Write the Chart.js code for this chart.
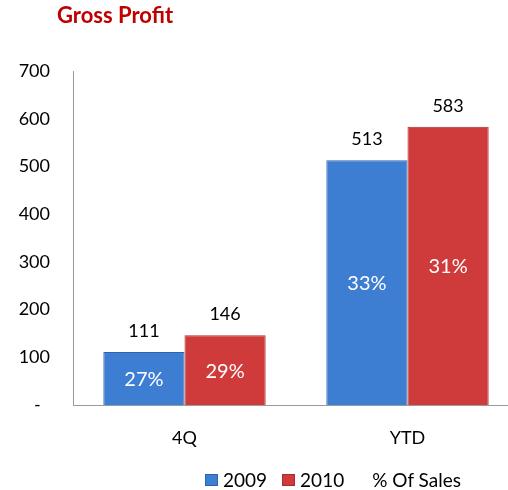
<!DOCTYPE html>
<html>
<head>
<meta charset="utf-8">
<script src="https://cdn.jsdelivr.net/npm/chart.js@4.4.1/dist/chart.umd.min.js"></script>
<style>
  html, body { margin: 0; padding: 0; width: 508px; height: 490px; overflow: hidden; background: #fff; }
  #wrap { position: relative; width: 508px; height: 490px; overflow: hidden; }
  canvas { position: absolute; left: 0; top: 0; }
  #title { position: absolute; left: 57px; top: 4px; font-family: Lato, "Open Sans", sans-serif; font-weight: bold; font-size: 22px; line-height: 22px; color: #c00000; white-space: nowrap; }
  #legend { position: absolute; left: 205px; top: 469px; font-family: Lato, "Open Sans", sans-serif; font-size: 19px; line-height: 22px; color: #000; display: flex; align-items: center; white-space: nowrap; }
  .box { display: inline-block; width: 13px; height: 12px; margin-right: 5px; box-sizing: border-box; }
  .item { display: flex; align-items: center; margin-right: 15px; }
</style>
</head>
<body>
<div id="wrap">
  <canvas id="c" width="520" height="490"></canvas>
  <div id="title">Gross Profit</div>
  <div id="legend"></div>
</div>
<script>
// ---- data ----
const categories = ['4Q', 'YTD'];
const seriesNames = ['2009', '2010'];
const values2009 = [111, 513];
const values2010 = [146, 583];
const pct2009 = ['27%', '33%'];
const pct2010 = ['29%', '31%'];
const yTicks = [0, 100, 200, 300, 400, 500, 600, 700];
const extraLegend = '% Of Sales';

const FONT = 'Lato, "Open Sans", sans-serif';
const colors = ['#3d7dd2', '#cf3b3b'];
const borders = ['#2f64aa', '#a82e2e'];

// legend (HTML)
const legend = document.getElementById('legend');
seriesNames.forEach((n, i) => {
  const it = document.createElement('span');
  it.className = 'item';
  const b = document.createElement('span');
  b.className = 'box';
  b.style.background = colors[i];
  b.style.border = '1px solid ' + borders[i];
  it.appendChild(b);
  const t = document.createElement('span');
  t.textContent = n;
  it.appendChild(t);
  legend.appendChild(it);
});
const ex = document.createElement('span');
ex.className = 'item';
ex.style.marginLeft = '13px';
ex.textContent = extraLegend;
legend.appendChild(ex);

const pcts = [pct2009, pct2010];

const labelPlugin = {
  id: 'barLabels',
  afterDatasetsDraw(chart) {
    const ctx = chart.ctx;
    ctx.save();
    chart.data.datasets.forEach((ds, di) => {
      const meta = chart.getDatasetMeta(di);
      meta.data.forEach((bar, i) => {
        // value above bar
        ctx.font = '18px ' + FONT;
        ctx.fillStyle = '#000';
        ctx.textAlign = 'center';
        ctx.textBaseline = 'bottom';
        ctx.fillText(String(ds.data[i]), bar.x, bar.y - 12);
        // percentage inside bar
        ctx.font = '20px ' + FONT;
        ctx.fillStyle = '#fff';
        ctx.textBaseline = 'middle';
        ctx.fillText(pcts[di][i], bar.x, (bar.y + bar.base) / 2 + 1);
      });
    });
    ctx.restore();
  }
};

new Chart(document.getElementById('c'), {
  type: 'bar',
  data: {
    labels: categories,
    datasets: [
      { label: seriesNames[0], data: values2009, backgroundColor: colors[0], borderColor: borders[0], borderWidth: 1 },
      { label: seriesNames[1], data: values2010, backgroundColor: colors[1], borderColor: borders[1], borderWidth: 1 }
    ]
  },
  options: {
    responsive: false,
    animation: false,
    layout: { padding: { top: 71, right: 1, bottom: 0, left: 0 } },
    plugins: { legend: { display: false }, title: { display: false }, tooltip: { enabled: false } },
    datasets: { bar: { categoryPercentage: 0.728, barPercentage: 1.0 } },
    scales: {
      x: {
        grid: { display: false, drawTicks: false },
        border: { display: true, color: '#9a9a9a', width: 1 },
        ticks: { font: { family: FONT, size: 18 }, color: '#000', padding: 22 },
        afterFit(scale) { scale.height = 85; }
      },
      y: {
        min: 0, max: 700,
        afterBuildTicks(scale) { scale.ticks = yTicks.map(v => ({ value: v })); },
        grid: { display: false, drawTicks: false },
        border: { display: true, color: '#9a9a9a', width: 1 },
        ticks: {
          font: { family: FONT, size: 18 }, color: '#000', padding: 23,
          callback: (v) => v === 0 ? '-  ' : String(v)
        },
        afterFit(scale) { scale.width = 73; }
      }
    }
  },
  plugins: [labelPlugin]
});
</script>
</body>
</html>
